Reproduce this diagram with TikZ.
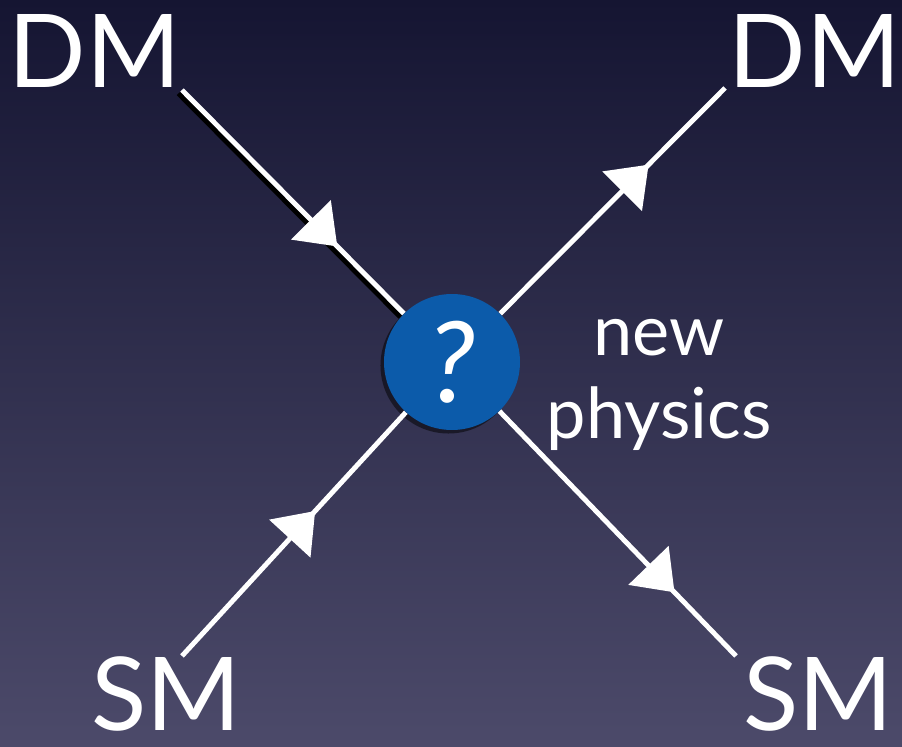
\documentclass[tikz,border=0pt]{standalone}
\usepackage{fontspec}
\setmainfont{Lato}
\usepackage{tikz}
\usetikzlibrary{arrows.meta, decorations.markings, shadows}
\definecolor{BGTop}{RGB}{21,21,50}
\definecolor{BGBot}{RGB}{76,74,106}
\definecolor{VtxBlue}{RGB}{12,91,170}

\begin{document}
\begin{tikzpicture}[
    lbl/.style={text=white, font=\fontsize{58}{60}\selectfont, anchor=base, inner sep=0pt},
    vtxnode/.style={circle, fill=VtxBlue, minimum size=2.72cm, inner sep=0pt, text=white,
                    font=\fontsize{64}{66}\selectfont\itshape,
                    drop shadow={shadow xshift=-2pt, shadow yshift=-2pt, fill=black, opacity=0.5}},
    prop/.style={draw=white, line width=2.8pt, postaction={decorate},
                 decoration={markings, mark=at position #1 with
                   {\arrow{Triangle[length=0.75cm, width=1.1cm]}}}},
    shadowed/.style={preaction={draw=black, line width=2.8pt,
                     transform canvas={shift={(-0.07,-0.07)}}}}
  ]
  % background
  \shade[top color=BGTop, bottom color=BGBot] (0,0) rectangle (18.04,14.92);
  \useasboundingbox (0,0) rectangle (18.04,14.92);

  % particles
  \node[lbl] (dmin)  at (1.90,13.16) {DM};
  \node[lbl] (dmout) at (16.30,13.16) {DM};
  \node[lbl] (smin)  at (3.32,0.32) {SM};
  \node[lbl] (smout) at (16.36,0.32) {SM};

  % free ends of the legs
  \coordinate (tlend) at (3.64,13.12);
  \coordinate (trend) at (14.50,13.16);
  \coordinate (blend) at (3.64,1.80);
  \coordinate (brend) at (14.72,1.80);

  % vertex
  \node[vtxnode] (vtx) at (9.04,7.68) {?};
  \node[text=white, align=center, font=\fontsize{40}{47}\selectfont] (np)
        at (13.18,7.22) {new\\physics};

  \draw[prop=0.70, shadowed] (tlend) -- (vtx);
  \draw[prop=0.595] (blend) -- (vtx);
  \draw[prop=0.66] (vtx) -- (trend);
  \draw[prop=0.74] (vtx) -- (brend);
\end{tikzpicture}
\end{document}
